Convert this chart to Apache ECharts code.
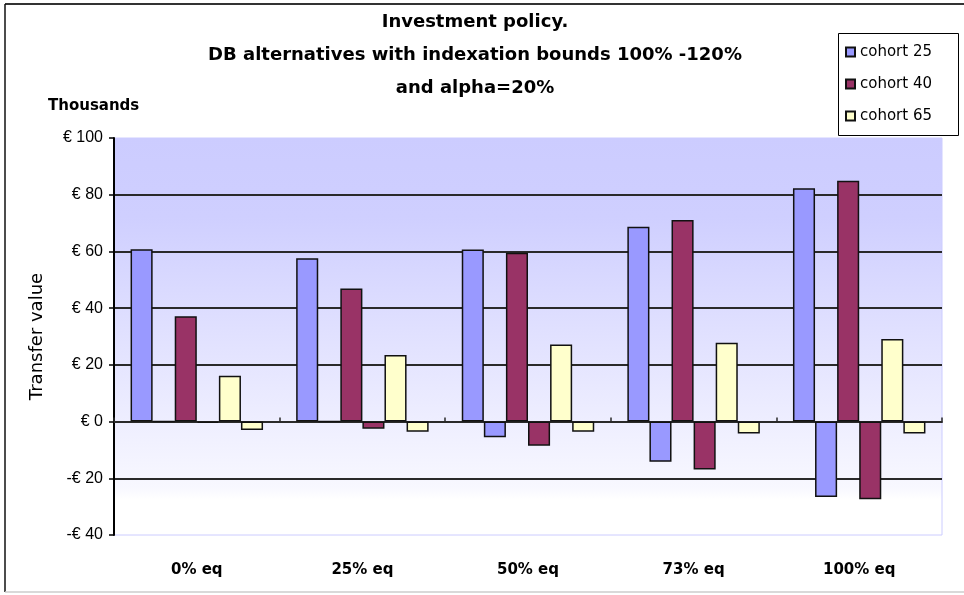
<!DOCTYPE html>
<html>
<head>
<meta charset="utf-8">
<script src="https://cdn.jsdelivr.net/npm/echarts@6/dist/echarts.min.js"></script>
<style>
  html, body { margin: 0; padding: 0; background: #fff; }
  #chart { width: 964px; height: 595px; }
</style>
</head>
<body>
<div id="chart"></div>
<script>
// categories and values (thousands of euro)
var categories = ['0% eq', '25% eq', '50% eq', '73% eq', '100% eq'];
var cohort25Pos = [60.8, 57.6, 60.7, 68.7, 82.3];
var cohort25Neg = [0, 0, -5.5, -14.2, -26.6];
var cohort40Pos = [37.1, 46.9, 59.5, 71.1, 84.9];
var cohort40Neg = [-0.5, -2.5, -8.5, -16.9, -27.4];
var cohort65Pos = [16.2, 23.5, 27.2, 27.8, 29.1];
var cohort65Neg = [-3.0, -3.6, -3.6, -4.2, -4.2];
var legendNames = ['cohort 25', 'cohort 40', 'cohort 65'];
var yMin = -40, yMax = 100, yStep = 20;

var colors = { 'cohort 25': '#9999FF', 'cohort 40': '#993366', 'cohort 65': '#FFFFCC' };

function barSeries(name, data) {
  return {
    name: name,
    type: 'bar',
    data: data,
    barGap: '0%',
    barCategoryGap: '20%',
    itemStyle: { color: colors[name], borderColor: '#111', borderWidth: 1.5 },
    emphasis: { disabled: true }
  };
}

var chart = echarts.init(document.getElementById('chart'));
var option = {
  animation: false,
  title: {
    text: 'Investment policy.\nDB alternatives with indexation bounds 100% -120%\nand alpha=20%',
    left: 475,
    top: 6,
    textAlign: 'center',
    padding: 0,
    textStyle: { fontFamily: 'DejaVu Sans', fontWeight: 'bold', fontSize: 18, lineHeight: 33, color: '#000' }
  },
  legend: {
    data: legendNames,
    orient: 'vertical',
    left: 845,
    top: 43,
    padding: 0,
    itemWidth: 9,
    itemHeight: 9,
    itemGap: 14,
    icon: 'rect',
    textStyle: { fontFamily: 'DejaVu Sans', fontSize: 15, lineHeight: 18, color: '#000' }
  },
  grid: {
    left: 114, right: 22, top: 138, bottom: 60,
    show: true,
    borderColor: '#CCCCFF',
    borderWidth: 1,
    backgroundColor: {
      type: 'linear', x: 0, y: 0, x2: 0, y2: 1,
      colorStops: [
        { offset: 0, color: '#CCCCFF' },
        { offset: 0.2, color: '#CFCFFF' },
        { offset: 0.88, color: '#F8F8FF' },
        { offset: 0.91, color: '#FFFFFF' },
        { offset: 1, color: '#FFFFFF' }
      ]
    }
  },
  xAxis: [{
    type: 'category',
    data: categories,
    axisLine: { show: false, onZero: false },
    axisTick: { show: false },
    axisLabel: { margin: 28, fontFamily: 'DejaVu Sans', fontWeight: 'bold', fontSize: 15, color: '#000' }
  }, {
    type: 'category',
    data: categories,
    position: 'bottom',
    axisLine: { show: true, onZero: true, lineStyle: { color: '#2a2a2a', width: 2 } },
    axisTick: { show: true, inside: true, length: 4, lineStyle: { color: '#2a2a2a', width: 1.5 } },
    axisLabel: { show: false }
  }],
  yAxis: {
    type: 'value',
    min: yMin, max: yMax, interval: yStep,
    name: 'Transfer value',
    nameLocation: 'middle',
    nameGap: 68,
    nameTextStyle: { fontFamily: 'DejaVu Sans', fontSize: 18, color: '#000' },
    axisLine: { show: true, lineStyle: { color: '#000', width: 2 } },
    axisTick: { show: true, length: 5, lineStyle: { color: '#000', width: 1.5 } },
    axisLabel: {
      margin: 11,
      fontFamily: 'Liberation Sans', fontSize: 16, color: '#000',
      formatter: function (v) { return v < 0 ? '-€ ' + Math.abs(v) : '€ ' + v; }
    },
    splitLine: { show: true, showMinLine: false, showMaxLine: false, lineStyle: { color: '#2a2a2a', width: 2 } }
  },
  graphic: [
    { type: 'line', shape: { x1: 5, y1: 4, x2: 964, y2: 4 }, style: { stroke: '#333', lineWidth: 2 } },
    { type: 'line', shape: { x1: 5, y1: 4, x2: 5, y2: 592 }, style: { stroke: '#111', lineWidth: 1.5 } },
    { type: 'line', shape: { x1: 5, y1: 592, x2: 964, y2: 592 }, style: { stroke: '#cccccc', lineWidth: 1.5 } },
    { type: 'rect', z: -1, shape: { x: 838.5, y: 33.5, width: 120, height: 102 }, style: { fill: '#fff', stroke: '#000', lineWidth: 1 } },
    { type: 'text', left: 48, top: 99, style: { text: 'Thousands', fontFamily: 'DejaVu Sans', fontWeight: 'bold', fontSize: 15, fill: '#000' } }
  ],
  series: [
    barSeries('cohort 25', cohort25Pos),
    barSeries('cohort 25', cohort25Neg),
    barSeries('cohort 40', cohort40Pos),
    barSeries('cohort 40', cohort40Neg),
    barSeries('cohort 65', cohort65Pos),
    barSeries('cohort 65', cohort65Neg)
  ]
};
chart.setOption(option);
</script>
</body>
</html>
